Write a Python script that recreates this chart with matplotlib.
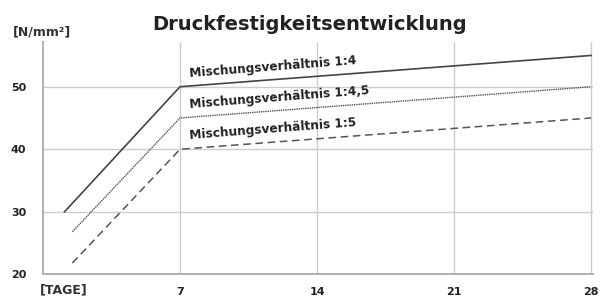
import numpy as np
import matplotlib
matplotlib.use('Agg')
import matplotlib.pyplot as plt

# data
days_14 = [1.1, 7, 28]
vals_14 = [30, 50, 55]
days_145 = [1.5, 7, 28]
vals_145 = [26.8, 45, 50]
days_15 = [1.5, 7, 28]
vals_15 = [21.8, 40, 45]
labels = ["Mischungsverhältnis 1:4", "Mischungsverhältnis 1:4,5", "Mischungsverhältnis 1:5"]
xticks = [7, 14, 21, 28]
yticks = [20, 30, 40, 50]

W, H = 600, 298
fig = plt.figure(figsize=(W / 100, H / 100), dpi=100)
ax = fig.add_axes([43 / W, (H - 274.3) / H, (593 - 43) / W, (274.3 - 41.7) / H])

ax.set_xlim(0, 28.1)
ax.set_ylim(20, 57.2)

grid_col = "#cccccc"
for y in [30, 40, 50]:
    ax.axhline(y, color=grid_col, lw=1.0, zorder=0)
for x in xticks:
    ax.axvline(x, color=grid_col, lw=1.0, zorder=0)

ax.plot(days_14, vals_14, color="#444444", lw=1.2, ls="-")
ax.plot(days_145, vals_145, color="#555555", lw=1.0, ls=(0, (1, 0.6)))
ax.plot(days_15, vals_15, color="#555555", lw=1.1, ls=(0, (5, 3)))

for spine in ["top", "right"]:
    ax.spines[spine].set_visible(False)
for spine in ["left", "bottom"]:
    ax.spines[spine].set_color("#b0b0b0")
    ax.spines[spine].set_linewidth(1.4)

ax.set_xticks(xticks)
ax.set_xticklabels([str(t) for t in xticks], fontsize=8, fontweight="bold", color="#222222")
ax.set_yticks(yticks)
ax.set_yticklabels([str(t) for t in yticks], fontsize=8, fontweight="bold", color="#222222")
ax.tick_params(length=0, pad=12)
ax.tick_params(axis="x", pad=9)

# line labels, rotated along the slope
ang = np.degrees(np.arctan(32 / 411))
for lbl, yv in zip(labels, [50, 45, 40]):
    ax.text(7.5, yv + 1.1, lbl, fontsize=8.7, fontweight="bold", color="#222222",
            rotation=ang, rotation_mode="anchor", ha="left", va="bottom")

fig.text(310 / W, 1 - 24 / H, "Druckfestigkeitsentwicklung", fontsize=14, fontweight="bold",
         color="#222222", ha="center", va="center")
fig.text(13 / W, 1 - 32 / H, "[N/mm²]", fontsize=9, fontweight="bold", color="#333333",
         ha="left", va="center")
fig.text(40 / W, 1 - 290 / H, "[TAGE]", fontsize=9, fontweight="bold", color="#333333",
         ha="left", va="center")

fig.savefig("out.png", dpi=100)
